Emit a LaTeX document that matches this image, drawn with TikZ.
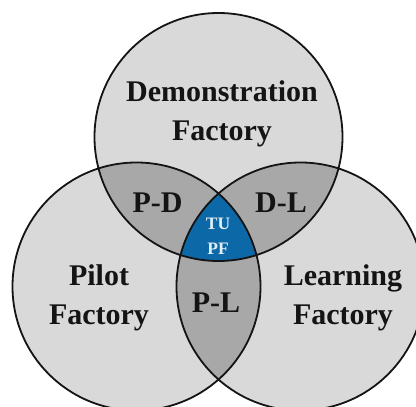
\documentclass[tikz,border=0pt]{standalone}
\usepackage{fontspec}
\setmainfont{Liberation Serif}
\definecolor{lightg}{RGB}{217,217,217}
\definecolor{darkg}{RGB}{168,168,168}
\definecolor{tublue}{RGB}{12,104,166}
\definecolor{ink}{RGB}{20,20,20}
\definecolor{tutext}{RGB}{225,238,248}
\tikzset{
  lbl/.style={text=ink, inner sep=0pt, align=center, font=\fontsize{30}{38.5}\selectfont\bfseries},
  tulbl/.style={text=tutext, inner sep=0pt, align=center, font=\fontsize{17.5}{25}\selectfont\bfseries},
  ring/.style={draw=ink, line width=1.8pt}
}
\begin{document}
\begin{tikzpicture}[x=1pt,y=-1pt]
\useasboundingbox (0,0) rectangle (416,407);
\clip (0,0) rectangle (416,407);
\fill[white] (0,0) rectangle (416,407);
\coordinate (cD) at (218.5,137);
\coordinate (cP) at (136.5,286.5);
\coordinate (cL) at (300.5,286.5);
\def\R{124pt}
% base circles
\fill[lightg] (cD) circle (\R) (cP) circle (\R) (cL) circle (\R);
% pairwise overlaps
\begin{scope}
  \clip (cD) circle (\R);
  \fill[darkg] (cP) circle (\R) (cL) circle (\R);
\end{scope}
\begin{scope}
  \clip (cP) circle (\R);
  \fill[darkg] (cL) circle (\R);
\end{scope}
% triple overlap
\begin{scope}
  \clip (cD) circle (\R);
  \clip (cP) circle (\R);
  \fill[tublue] (cL) circle (\R);
\end{scope}
% outlines
\draw[ring] (cD) circle (\R) (cP) circle (\R) (cL) circle (\R);
% labels
\node[lbl] (demo) at (222,114) {Demonstration\\Factory};
\node[lbl] (pilot) at (99,298) {Pilot\\Factory};
\node[lbl] (learn) at (343,298) {Learning\\Factory};
\node[lbl] (pd) at (157.5,203) {P-D};
\node[lbl] (dl) at (281,203) {D-L};
\node[lbl] (pl) at (216,303) {P-L};
\node[tulbl] (tu) at (218,236) {TU\\PF};
\end{tikzpicture}
\end{document}
